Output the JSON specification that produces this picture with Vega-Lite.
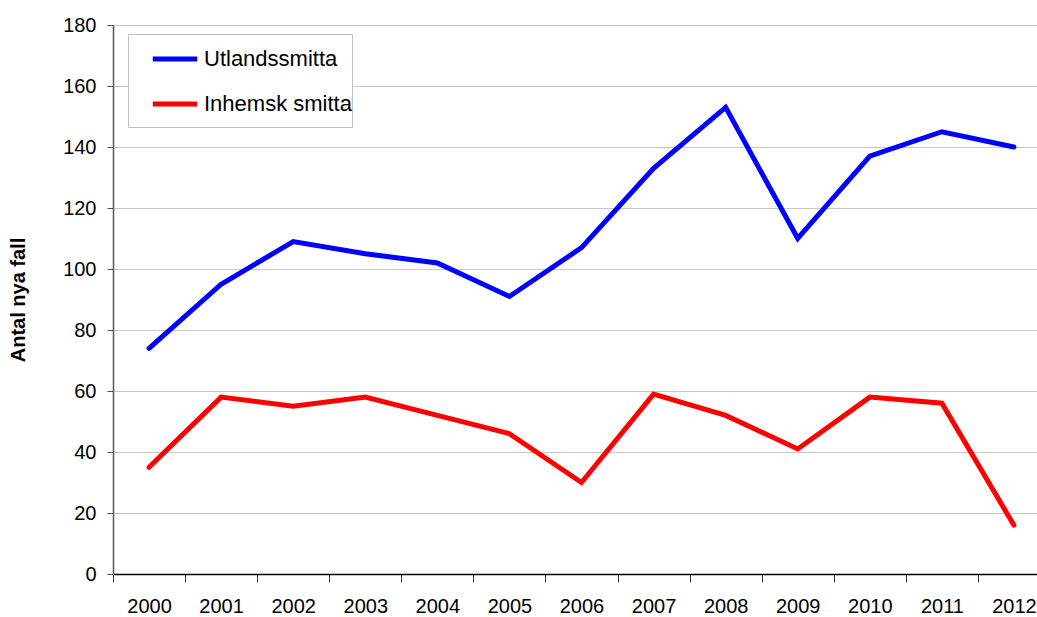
{
  "$schema": "https://vega.github.io/schema/vega-lite/v6.json",
  "autosize": "none",
  "width": 937,
  "height": 549,
  "padding": {"left": 113, "top": 25, "right": 0, "bottom": 43},
  "background": "white",
  "config": {
    "font": "Liberation Sans",
    "view": {"stroke": null}
  },
  "data": {
    "values": [
      {"year": "2000", "series": "Utlandssmitta", "value": 74},
      {"year": "2001", "series": "Utlandssmitta", "value": 95},
      {"year": "2002", "series": "Utlandssmitta", "value": 109},
      {"year": "2003", "series": "Utlandssmitta", "value": 105},
      {"year": "2004", "series": "Utlandssmitta", "value": 102},
      {"year": "2005", "series": "Utlandssmitta", "value": 91},
      {"year": "2006", "series": "Utlandssmitta", "value": 107},
      {"year": "2007", "series": "Utlandssmitta", "value": 133},
      {"year": "2008", "series": "Utlandssmitta", "value": 153},
      {"year": "2009", "series": "Utlandssmitta", "value": 110},
      {"year": "2010", "series": "Utlandssmitta", "value": 137},
      {"year": "2011", "series": "Utlandssmitta", "value": 145},
      {"year": "2012", "series": "Utlandssmitta", "value": 140},
      {"year": "2000", "series": "Inhemsk smitta", "value": 35},
      {"year": "2001", "series": "Inhemsk smitta", "value": 58},
      {"year": "2002", "series": "Inhemsk smitta", "value": 55},
      {"year": "2003", "series": "Inhemsk smitta", "value": 58},
      {"year": "2004", "series": "Inhemsk smitta", "value": 52},
      {"year": "2005", "series": "Inhemsk smitta", "value": 46},
      {"year": "2006", "series": "Inhemsk smitta", "value": 30},
      {"year": "2007", "series": "Inhemsk smitta", "value": 59},
      {"year": "2008", "series": "Inhemsk smitta", "value": 52},
      {"year": "2009", "series": "Inhemsk smitta", "value": 41},
      {"year": "2010", "series": "Inhemsk smitta", "value": 58},
      {"year": "2011", "series": "Inhemsk smitta", "value": 56},
      {"year": "2012", "series": "Inhemsk smitta", "value": 16}
    ]
  },
  "mark": {"type": "line", "strokeWidth": 5, "strokeCap": "round", "strokeJoin": "miter"},
  "encoding": {
    "x": {
      "field": "year", "type": "ordinal",
      "scale": {"type": "band", "paddingInner": 0, "paddingOuter": 0},
      "axis": {
        "title": null, "labelAngle": 0, "labelFontSize": 20, "labelColor": "black",
        "tickBand": "extent", "tickSize": 8, "tickColor": "#333", "domainColor": "black",
        "labelPadding": 14, "grid": false, "domainWidth": 1.5
      }
    },
    "y": {
      "field": "value", "type": "quantitative",
      "scale": {"domain": [0, 180], "nice": false},
      "axis": {
        "title": "Antal nya fall", "titleFontSize": 20, "titleFontWeight": "bold", "titleColor": "black",
        "titlePadding": 34,
        "values": [0, 20, 40, 60, 80, 100, 120, 140, 160, 180],
        "labelFontSize": 20, "labelColor": "black", "labelPadding": 11,
        "tickSize": 6, "tickColor": "#555", "domainColor": "#555", "domainWidth": 1.5,
        "gridColor": "#c8c8c8", "gridWidth": 1
      }
    },
    "color": {
      "field": "series", "type": "nominal",
      "scale": {"domain": ["Utlandssmitta", "Inhemsk smitta"], "range": ["#0000FF", "#FF0000"]},
      "legend": {
        "title": " ", "titleOrient": "bottom", "titleFontSize": 8, "titlePadding": 4,
        "orient": "none", "legendX": 15, "legendY": 9,
        "symbolType": "stroke", "symbolSize": 1980, "symbolStrokeWidth": 5,
        "symbolOffset": 22,
        "labelFontSize": 22, "labelColor": "black", "labelOffset": 4,
        "labelExpr": "datum.label + '\u2007\u00a0'",
        "rowPadding": 9, "padding": 0,
        "strokeColor": "#c0c0c0", "fillColor": "white"
      }
    }
  }
}
